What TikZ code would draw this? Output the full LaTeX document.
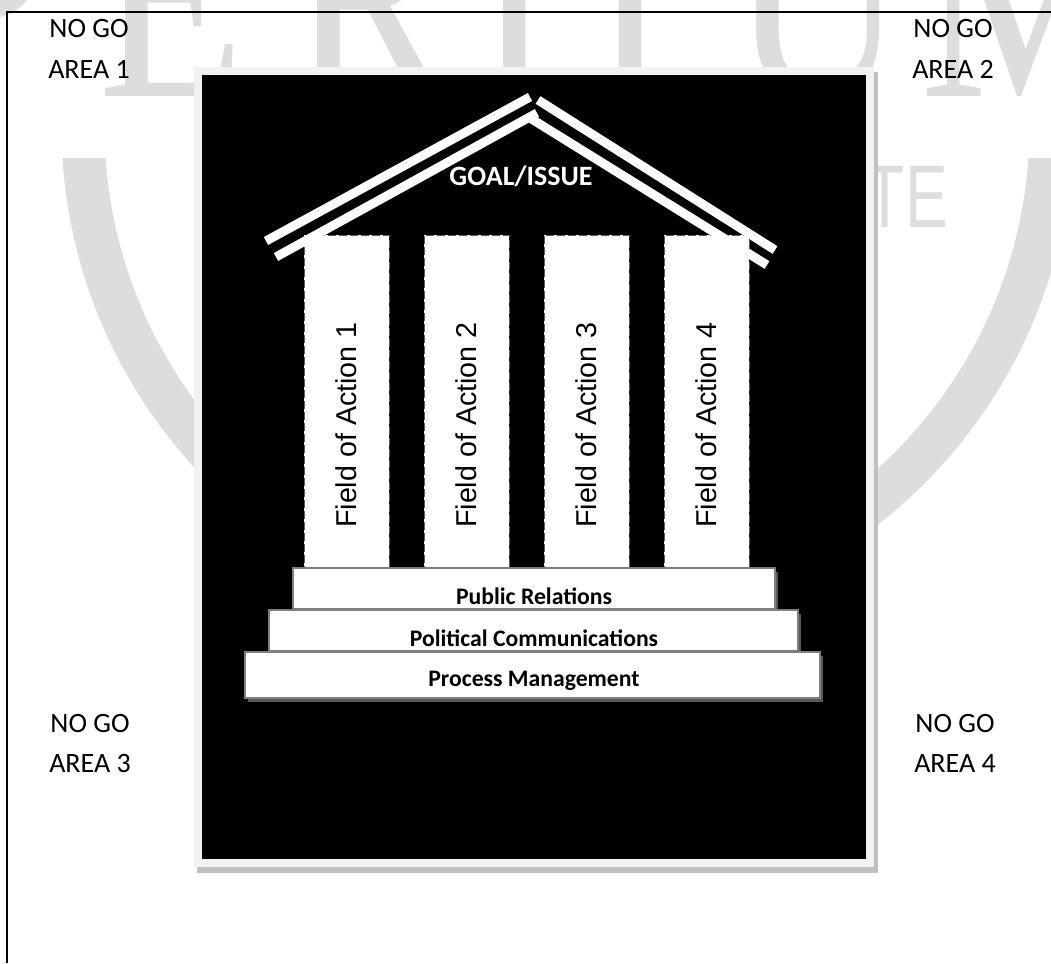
\documentclass[tikz,border=0pt]{standalone}
\usepackage{fontspec}
\setmainfont{Carlito}
\newfontfamily\pillarfont{Liberation Sans}
\newfontfamily\markserif{Liberation Serif}
\newfontfamily\marksans{Liberation Sans}
\definecolor{wmgray}{RGB}{221,221,221}
\definecolor{panelrim}{RGB}{242,242,242}
\definecolor{panelshade}{RGB}{192,192,192}
\definecolor{stepedge}{RGB}{127,127,127}
\definecolor{stepshade}{RGB}{89,89,89}
\definecolor{pillaredge}{RGB}{90,90,90}
\tikzset{
  nogo/.style={font=\fontsize{28}{34}\selectfont, inner sep=0pt, anchor=base},
  pillar/.style={draw=pillaredge, fill=white, line width=1pt, dash pattern=on 8pt off 3pt,
    minimum width=85pt, minimum height=335pt, inner sep=0pt},
  pillartext/.style={font=\pillarfont\fontsize{28.7}{34}\selectfont, rotate=90, inner sep=0pt},
  stepbox/.style={draw=stepedge, fill=white, line width=1.2pt, inner sep=0pt},
  stepshadow/.style={fill=stepshade, draw=none, inner sep=0pt},
  steptext/.style={font=\bfseries\fontsize{23.7}{28}\selectfont, inner sep=0pt, anchor=base},
  goaltext/.style={text=white, font=\bfseries\fontsize{28}{34}\selectfont, inner sep=0pt, anchor=base},
  roofbar/.style={draw=white, line width=9pt},
  wmletter/.style={text=wmgray, font=\markserif\fontsize{300}{300}\selectfont, inner sep=0pt, anchor=base west},
  frameline/.style={draw=black, line width=1.5pt},
}
\begin{document}
\begin{tikzpicture}[x=1pt,y=-1pt]
\useasboundingbox (0,0) rectangle (1051,963);

% faint logo in the background
\begin{scope}
  \clip (0,0) rectangle (1051,963);
  \foreach \ch/\xx [count=\i] in {P/-85, E/98, R/290, T/441, I/590, U/731, M/920}
    \node[wmletter] (wm\i) at (\xx,97) {\scalebox{0.8}[1]{\ch}};
\end{scope}
\begin{scope}
  \clip (0,158) rectangle (1051,963);
  \draw[wmgray, line width=43pt] (567,126) circle[radius=484];
\end{scope}
\node[text=wmgray, font=\marksans\fontsize{89}{89}\selectfont, inner sep=0pt, anchor=base east]
  (wmte) at (948,227) {\scalebox{0.72}[1]{TE}};

% outer frame
\coordinate (ftr) at (1051,12);
\coordinate (ftl) at (7,12);
\coordinate (fbl) at (7,963);
\draw[frameline] (ftr) -- (ftl) -- (fbl);

% corner labels
\node[nogo] (na1) at (89,38) {NO GO};
\node[nogo] (nb1) at (89,79) {AREA 1};
\node[nogo] (na2) at (953,38) {NO GO};
\node[nogo] (nb2) at (953,79) {AREA 2};
\node[nogo] (na3) at (90,732) {NO GO};
\node[nogo] (nb3) at (90,772) {AREA 3};
\node[nogo] (na4) at (955,732) {NO GO};
\node[nogo] (nb4) at (955,772) {AREA 4};

% black panel with light rim and shadow
\fill[panelshade] (197,72) rectangle (878,873);
\fill[panelrim] (194,67) rectangle (874,867);
\fill[black] (202,75) rectangle (866,859);

% pillars
\foreach \px [count=\i] in {346.5,466.5,586.5,706.5} {
  \node[pillar] (p\i) at (\px,402.5) {};
  \node[pillartext] (pt\i) at (\px,425) {Field of Action \i};
}

% roof
\coordinate (rol1) at (266,241);
\coordinate (rol2) at (530,97);
\coordinate (ror1) at (538,100);
\coordinate (ror2) at (775,250);
\coordinate (ril1) at (276,257);
\coordinate (ril2) at (537,113);
\coordinate (rir1) at (530,118);
\coordinate (rir2) at (767,265);
\draw[roofbar] (rol1) -- (rol2);
\draw[roofbar] (ror1) -- (ror2);
\draw[roofbar] (ril1) -- (ril2);
\draw[roofbar] (rir1) -- (rir2);
\node[goaltext] (goal) at (521,185) {GOAL/ISSUE};

% steps
\node[stepshadow, minimum width=482pt, minimum height=41pt] (s1sh) at (537,592) {};
\node[stepbox, minimum width=482pt, minimum height=41pt] (s1) at (534,588.5) {};
\node[stepshadow, minimum width=529pt, minimum height=41pt] (s2sh) at (536.5,634) {};
\node[stepbox, minimum width=529pt, minimum height=41pt] (s2) at (533.5,630.5) {};
\node[stepshadow, minimum width=575pt, minimum height=46pt] (s3sh) at (535.5,678.5) {};
\node[stepbox, minimum width=575pt, minimum height=46pt] (s3) at (532.5,675) {};
\node[steptext] (t1) at (534,604) {Public Relations};
\node[steptext] (t2) at (534,646) {Political Communications};
\node[steptext] (t3) at (534,686) {Process Management};
\end{tikzpicture}
\end{document}
